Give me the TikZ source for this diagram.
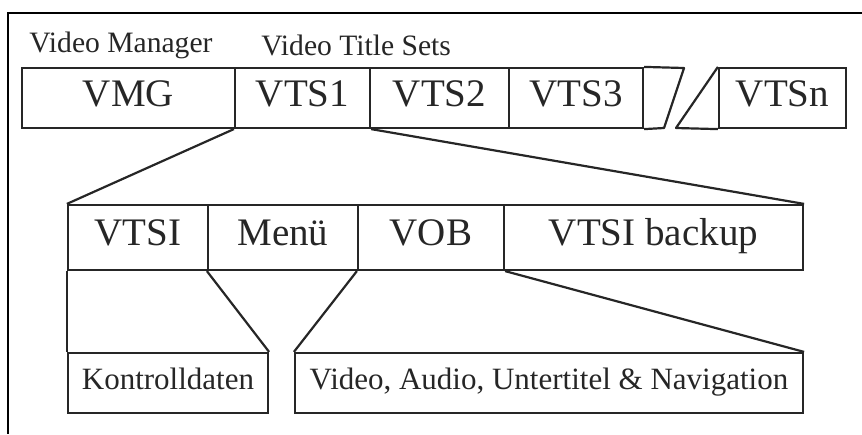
\documentclass[tikz,border=0pt]{standalone}
\usepackage{fontspec}
\setmainfont{Liberation Serif}

\tikzset{
  cell/.style 2 args={draw=black!85, line width=1.1pt, minimum width=#1*0.5pt, minimum height=#2*0.5pt, inner sep=0pt, text=black!85},
  big/.style={font=\fontsize{19.5}{21}\selectfont, text height=0.9em, text depth=0.1em},
  small/.style={font=\fontsize{15.5}{17}\selectfont, text height=0.75em, text depth=0.11em},
  lbl/.style={font=\fontsize{14.8}{16}\selectfont, text=black!85, inner sep=0pt},
  link/.style={draw=black!85, line width=1.1pt}
}

\begin{document}
\begin{tikzpicture}[x=0.5pt, y=-0.5pt]
        \useasboundingbox (0,0) rectangle (862,434);

        % Rahmen
        \draw[line width=1pt] (862,13) -- (8,13) -- (8,434);

        % Beschriftung oben
        \node[lbl, anchor=west] (mgrlabel) at (29,45) {Video Manager};
        \node[lbl, anchor=west] (tslabel) at (261,45) {Video Title Sets};

        % Obere Reihe
        \node[cell={213}{60}, big] (vmg) at (128.5,98) {VMG};
        \node[cell={135}{60}, big] (vts1) at (302.5,98) {VTS1};
        \node[cell={139}{60}, big] (vts2) at (439.5,98) {VTS2};
        \node[cell={134}{60}, big] (vts3) at (576,98) {VTS3};
        \node[cell={127}{60}, big] (vtsn) at (782.5,98) {VTSn};

        % Unterbrechung
        \coordinate (cuta) at (684,68);
        \coordinate (cutb) at (664,128);
        \coordinate (cutc) at (676,128);
        \draw[link, line join=round] (vts3.north east) -- (cuta) -- (cutb) -- (vts3.south east);
        \draw[link, line join=round] (vtsn.north west) -- (cutc) -- (vtsn.south west);

        % Mittlere Reihe
        \node[cell={140}{65}, big] (vtsi) at (138,237.5) {VTSI};
        \node[cell={150}{65}, big] (menu) at (283,237.5) {Menü};
        \node[cell={146}{65}, big] (vob) at (431,237.5) {VOB};
        \node[cell={299}{65}, big] (backup) at (653.5,237.5) {VTSI backup};

        % Untere Reihe
        \node[cell={200}{60}, small] (ctrl) at (168,383) {Kontrolldaten};
        \node[cell={508}{60}, small] (media) at (549,383) {Video, Audio, Untertitel \& Navigation};

        % Verbindungen
        \draw[link] (vts1.south west) -- (vtsi.north west);
        \draw[link] (vts1.south east) -- (backup.north east);
        \draw[link] (vtsi.south west) -- (ctrl.north west);
        \draw[link] (menu.south west) -- (ctrl.north east);
        \draw[link] (vob.south west) -- (media.north west);
        \draw[link] (vob.south east) -- (media.north east);
\end{tikzpicture}
\end{document}
